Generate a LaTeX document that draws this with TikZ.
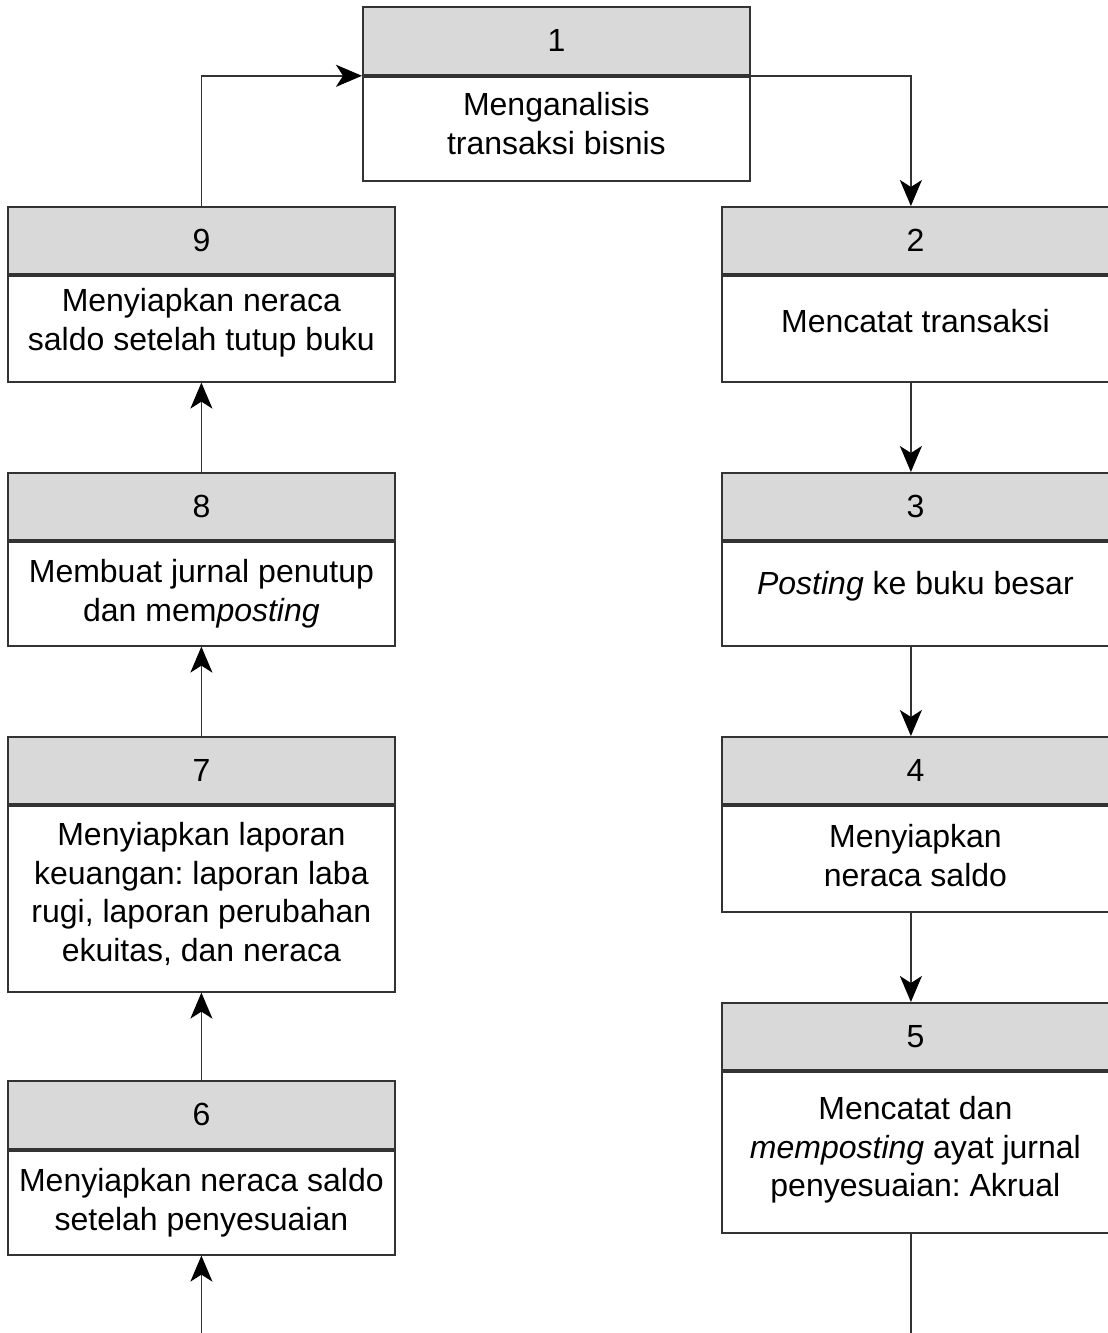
\documentclass[tikz,border=0pt]{standalone}
\usepackage{fontspec}
\setmainfont{Liberation Sans}
\usetikzlibrary{arrows.meta}
\definecolor{linegray}{HTML}{333333}
\definecolor{headgray}{HTML}{D9D9D9}
\frenchspacing

\begin{document}
\begin{tikzpicture}[x=1pt,y=-1pt,
  txt/.style={align=center, inner sep=0pt, font=\fontsize{32}{38.5}\selectfont},
  box/.style={txt, draw=linegray, line width=1.8pt, minimum width=387pt,
              anchor=north west},
  head/.style={box, fill=headgray},
  body/.style={box, fill=white, anchor=north},
  plain/.style={draw=linegray, line width=1.8pt},
  link/.style={plain, -{Stealth[length=26pt,width=22pt,inset=7pt,color=black]}},
]
\useasboundingbox (0,0) rectangle (1108,1333);
\clip (0,0) rectangle (1108,1333);

% top step
\node[head, minimum height=68pt] (h1) at (362,6) {1};
\node[body, minimum height=104pt] (b1) at (h1.south) {};
\node[txt] (t1) at ([yshift=5pt]b1.center) {Menganalisis\\transaksi bisnis};

% right column
\node[head, minimum height=67pt] (h2) at (721,206) {2};
\node[body, minimum height=106pt] (b2) at (h2.south) {};
\node[txt] (t2) at ([yshift=8pt]b2.center) {Mencatat transaksi};

\node[head, minimum height=67pt] (h3) at (721,472) {3};
\node[body, minimum height=104pt] (b3) at (h3.south) {};
\node[txt] (t3) at ([yshift=7pt]b3.center) {\textit{Posting} ke buku besar};

\node[head, minimum height=67pt] (h4) at (721,736) {4};
\node[body, minimum height=106pt] (b4) at (h4.south) {};
\node[txt] (t4) at ([yshift=3pt]b4.center) {Menyiapkan\\neraca saldo};

\node[head, minimum height=67pt] (h5) at (721,1002) {5};
\node[body, minimum height=161pt] (b5) at (h5.south) {};
\node[txt] (t5) at ([yshift=2pt]b5.center) {Mencatat dan\\\textit{memposting} ayat jurnal\\penyesuaian: Akrual};

% left column
\node[head, minimum height=67pt] (h9) at (7,206) {9};
\node[body, minimum height=106pt] (b9) at (h9.south) {};
\node[txt] (t9) at ([yshift=6pt]b9.center) {Menyiapkan neraca\\saldo setelah tutup buku};

\node[head, minimum height=67pt] (h8) at (7,472) {8};
\node[body, minimum height=104pt] (b8) at (h8.south) {};
\node[txt] (t8) at (b8.center) {Membuat jurnal penutup\\dan mem\textit{posting}};

\node[head, minimum height=67pt] (h7) at (7,736) {7};
\node[body, minimum height=186pt] (b7) at (h7.south) {};
\node[txt] (t7) at ([yshift=5pt]b7.center) {Menyiapkan laporan\\keuangan: laporan laba\\rugi, laporan perubahan\\ekuitas, dan neraca};

\node[head, minimum height=68pt] (h6) at (7,1080) {6};
\node[body, minimum height=104pt] (b6) at (h6.south) {};
\node[txt] (t6) at (b6.center) {Menyiapkan neraca saldo\\setelah penyesuaian};

% loose ends running off the page
\path ([xshift=-4.5pt]b5.south) ++(0,120) coordinate (rend);
\path (b6.south) ++(0,100) coordinate (lstart);

% connectors
\draw[link] (h1.south east) -| ([xshift=-4.5pt]h2.north);
\draw[link] ([xshift=-4.5pt]b2.south) -- ([xshift=-4.5pt]h3.north);
\draw[link] ([xshift=-4.5pt]b3.south) -- ([xshift=-4.5pt]h4.north);
\draw[link] ([xshift=-4.5pt]b4.south) -- ([xshift=-4.5pt]h5.north);
\draw[plain] ([xshift=-4.5pt]b5.south) -- (rend);

\draw[link] (lstart) -- (b6.south);
\draw[link] (h6.north) -- (b7.south);
\draw[link] (h7.north) -- (b8.south);
\draw[link] (h8.north) -- (b9.south);
\draw[link] (h9.north) |- (h1.south west);
\end{tikzpicture}
\end{document}
